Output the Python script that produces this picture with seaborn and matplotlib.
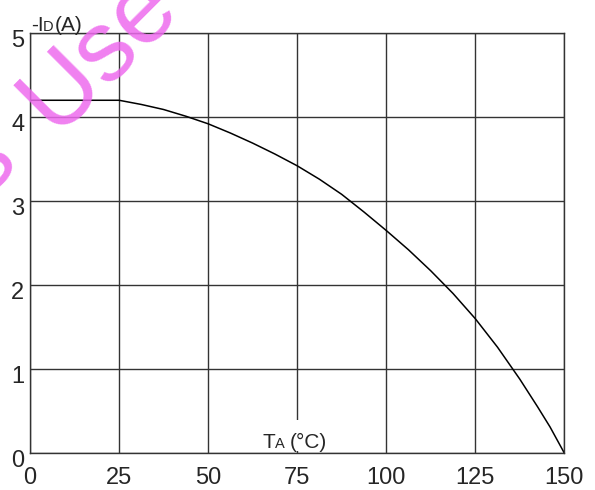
import pandas as pd
import seaborn as sns
import matplotlib.pyplot as plt
from matplotlib.patches import Rectangle
from matplotlib.transforms import ScaledTranslation

# ----------------------------------------------------------
# data
# ----------------------------------------------------------
temp_c = [0, 25, 31.25, 37.5, 43.75, 50, 56.25, 62.5, 68.75, 75, 81.25, 87.5,
          93.75, 100, 106.25, 112.5, 118.75, 125, 131.25, 137.5, 142.5, 146, 150]
drain_a = [4.2, 4.2, 4.15, 4.09, 4.01, 3.92, 3.81, 3.69, 3.56, 3.42, 3.26, 3.08,
           2.87, 2.65, 2.42, 2.17, 1.90, 1.60, 1.26, 0.88, 0.55, 0.31, 0.0]

x_ticks = [0, 25, 50, 75, 100, 125, 150]
y_ticks = [0, 1, 2, 3, 4, 5]

df = pd.DataFrame({"temp": temp_c, "id": drain_a})

sns.set_style("white")
plt.rcParams["font.family"] = ["Liberation Sans", "DejaVu Sans"]
NARROW = ["Liberation Sans Narrow", "Liberation Sans", "DejaVu Sans"]

fig = plt.figure(figsize=(5.95, 4.9), dpi=100)
ax = fig.add_axes([0.0504, 0.0755, 0.898, 0.857])

sns.lineplot(data=df, x="temp", y="id", ax=ax, color="black", linewidth=1.1)

ax.set_xlim(0, 150)
ax.set_ylim(0, 5)
ax.set_xticks(x_ticks)
ax.set_yticks(y_ticks)
ax.grid(True, color="#333333", linewidth=1.0)
ax.tick_params(length=0)
ax.tick_params(axis="x", pad=10)
ax.tick_params(axis="y", pad=4)
for lbl in ax.get_xticklabels() + ax.get_yticklabels():
    lbl.set_fontfamily(NARROW)
    lbl.set_fontsize(17)
# y labels sit a little below their grid lines
shift = ScaledTranslation(0, -5 / 100, fig.dpi_scale_trans)
for lbl in ax.get_yticklabels():
    lbl.set_transform(lbl.get_transform() + shift)
for s in ax.spines.values():
    s.set_color("#333333")
    s.set_linewidth(1.0)
ax.set_xlabel("")
ax.set_ylabel("")

# axis labels, subscripts drawn smaller
fig.text(0.053, 0.937, "-I", fontsize=15, ha="left", va="baseline")
fig.text(0.0725, 0.937, "D", fontsize=10.5, ha="left", va="baseline")
fig.text(0.092, 0.937, "(A)", fontsize=15, ha="left", va="baseline")

# white patch hides the grid behind the x label
ax.add_patch(Rectangle((64.0, 0.02), 23.0, 0.37, facecolor="white",
                       edgecolor="none", zorder=1))
ax.text(65.4, 0.06, "T", fontsize=15, ha="left", va="baseline", zorder=5)
ax.text(68.9, 0.06, "A", fontsize=10.5, ha="left", va="baseline", zorder=5)
ax.text(73.0, 0.06, "(°C)", fontsize=15, ha="left", va="baseline", zorder=5)

# watermark
wm = dict(fontsize=72, color="#ee6aee", alpha=0.85, rotation=45,
          va="baseline", rotation_mode="anchor", zorder=10)
fig.text(0.092, 0.725, "Use", ha="left", **wm)
fig.text(0.0336, 0.668, "s", ha="right", **wm)

fig.savefig("out.png", dpi=100)
